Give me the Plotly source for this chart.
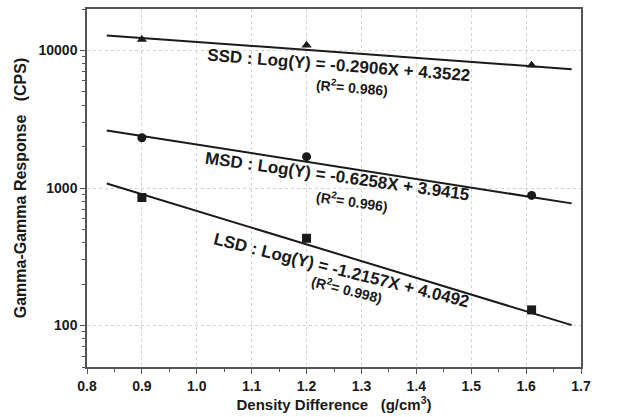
import numpy as np
import plotly.graph_objects as go

# ---- data ----
density = [0.9, 1.2, 1.61]
ssd = [12000, 10900, 7800]
msd = [2320, 1690, 883]
lsd = [853, 431, 130]

fit_names = ["SSD", "MSD", "LSD"]
fit_slopes = [-0.2906, -0.6258, -1.2157]
fit_intercepts = [4.3522, 3.9415, 4.0492]
fit_r2 = [0.986, 0.996, 0.998]
fit_x = [0.836, 1.683]

x_ticks = [0.8, 0.9, 1.0, 1.1, 1.2, 1.3, 1.4, 1.5, 1.6, 1.7]
y_ticks = [100, 1000, 10000]

FONT = "Liberation Sans"
INK = "#1a1a1a"

fig = go.Figure()

# fit lines
for s, b in zip(fit_slopes, fit_intercepts):
    xs = np.array(fit_x)
    ys = 10 ** (s * xs + b)
    fig.add_trace(go.Scatter(x=xs, y=ys, mode="lines",
                             line=dict(color=INK, width=2), showlegend=False,
                             hoverinfo="skip"))

# markers
for vals, sym in [(ssd, "triangle-up"), (msd, "circle"), (lsd, "square")]:
    fig.add_trace(go.Scatter(x=density, y=vals, mode="markers",
                             marker=dict(symbol=sym, size=9, color=INK),
                             showlegend=False))

# annotations (equation + R2)
eq_pos = [(1.260, 3.892, 4.5), (1.256, 3.083, 8), (1.2635, 2.397, 14)]
r2_pos = [(1.283, 3.733, 4.5), (1.283, 2.903, 8), (1.273, 2.267, 14)]
for name, s, b, r2, ep, rp in zip(fit_names, fit_slopes, fit_intercepts, fit_r2, eq_pos, r2_pos):
    fig.add_annotation(x=ep[0], y=ep[1], xref="x", yref="y",
                       text=f"<b>{name} : Log(Y) = {s:.4f}X + {b:.4f}</b>",
                       showarrow=False, textangle=ep[2],
                       font=dict(family=FONT, size=17, color=INK))
    fig.add_annotation(x=rp[0], y=rp[1], xref="x", yref="y",
                       text=f"<b>(R<sup>2</sup>= {r2:.3f})</b>",
                       showarrow=False, textangle=rp[2],
                       font=dict(family=FONT, size=14, color=INK))

axis_common = dict(showline=True, linecolor="#555", linewidth=1.5, mirror=True,
                   ticks="outside", tickcolor="#555", ticklen=5, tickwidth=1.2,
                   showgrid=True, gridcolor="#d4d4d4", griddash="dot", gridwidth=1,
                   zeroline=False,
                   tickfont=dict(family=FONT, size=14, color=INK))

fig.update_xaxes(range=[0.8, 1.7], tickvals=x_ticks,
                 ticktext=[f"<b>{v:.1f}</b>" for v in x_ticks],
                 minor=dict(ticks="outside", ticklen=3, tick0=0.8, dtick=0.05,
                            tickcolor="#555", showgrid=False),
                 title=dict(text="<b>Density Difference   (g/cm<sup>3</sup>)</b>",
                            font=dict(family=FONT, size=15, color=INK), standoff=4),
                 **axis_common)
fig.update_yaxes(type="log", range=[np.log10(50), np.log10(20000)],
                 tickvals=y_ticks, ticktext=[f"<b>{v}</b>" for v in y_ticks],
                 minor=dict(ticks="outside", ticklen=3, dtick="D1",
                            tickcolor="#555", showgrid=False),
                 title=dict(text="<b>Gamma-Gamma Response   (CPS)</b>",
                            font=dict(family=FONT, size=16, color=INK), standoff=8),
                 **axis_common)

fig.update_layout(width=624, height=417, margin=dict(l=87, r=43, t=7, b=50),
                  plot_bgcolor="white", paper_bgcolor="white")

fig.write_html("out.html")
